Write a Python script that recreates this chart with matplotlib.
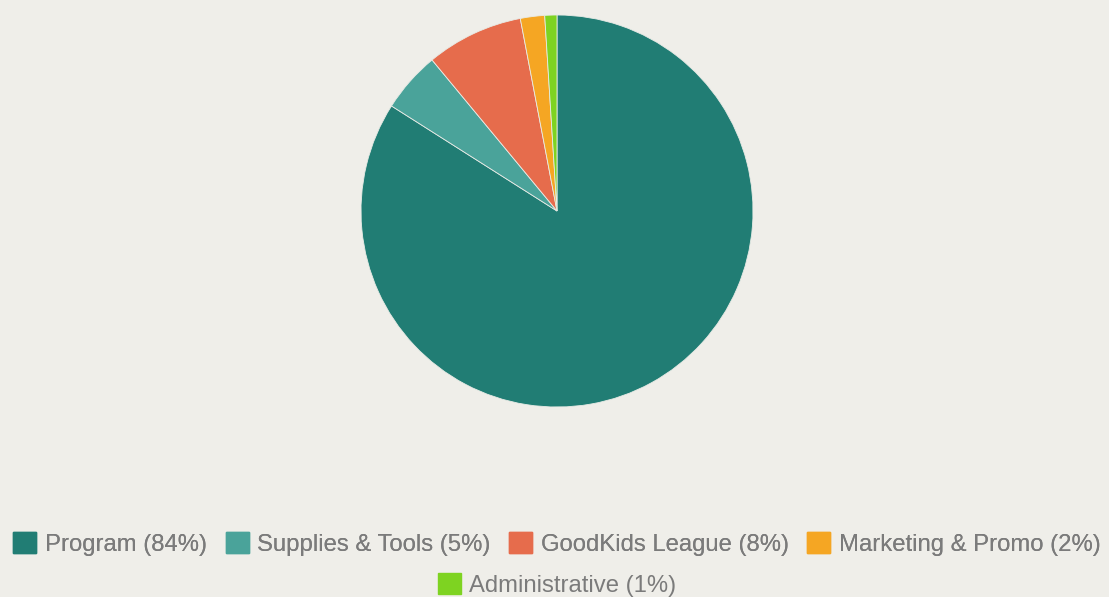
import matplotlib.pyplot as plt
from matplotlib.patches import Patch

# Datos del gráfico
categorias = ["Program", "Supplies & Tools", "GoodKids League", "Marketing & Promo", "Administrative"]
valores = [84, 5, 8, 2, 1]
colores = ["#217d74", "#4aa39a", "#e66c4c", "#f5a623", "#7ed321"]

fondo = "#efeee9"
plt.rcParams["font.family"] = ["Liberation Sans", "DejaVu Sans"]

fig = plt.figure(figsize=(11.09, 5.97), dpi=100, facecolor=fondo)

# Ejes del pastel en coordenadas de píxel
cx, cy, r = 557, 211, 196
W, H = 1109, 597
ax = fig.add_axes([(cx - r) / W, (H - cy - r) / H, 2 * r / W, 2 * r / H])
ax.set_facecolor(fondo)

ax.pie(valores, colors=colores, startangle=90, counterclock=False,
       wedgeprops=dict(edgecolor="#e8ebe6", linewidth=0.6))
ax.set_aspect("equal")
ax.set_xlim(-1, 1)
ax.set_ylim(-1, 1)
ax.axis("off")

# Leyenda en dos filas
etiquetas = [f"{c} ({v}%)" for c, v in zip(categorias, valores)]
handles = [Patch(facecolor=col, edgecolor=col) for col in colores]

opts = dict(frameon=False, fontsize=17.2, labelcolor="#7b7b7b",
            handlelength=0.96, handleheight=0.96, handletextpad=0.36,
            columnspacing=0.78, borderpad=0, borderaxespad=0, loc="center")

leg1 = fig.legend(handles[:4], etiquetas[:4], ncol=4,
                  bbox_to_anchor=(557 / W, 1 - 544 / H), **opts)
fig.add_artist(leg1)
fig.legend(handles[4:], etiquetas[4:], ncol=1,
           bbox_to_anchor=(557 / W, 1 - 585 / H), **opts)

plt.savefig("out.png", dpi=100, facecolor=fondo)
